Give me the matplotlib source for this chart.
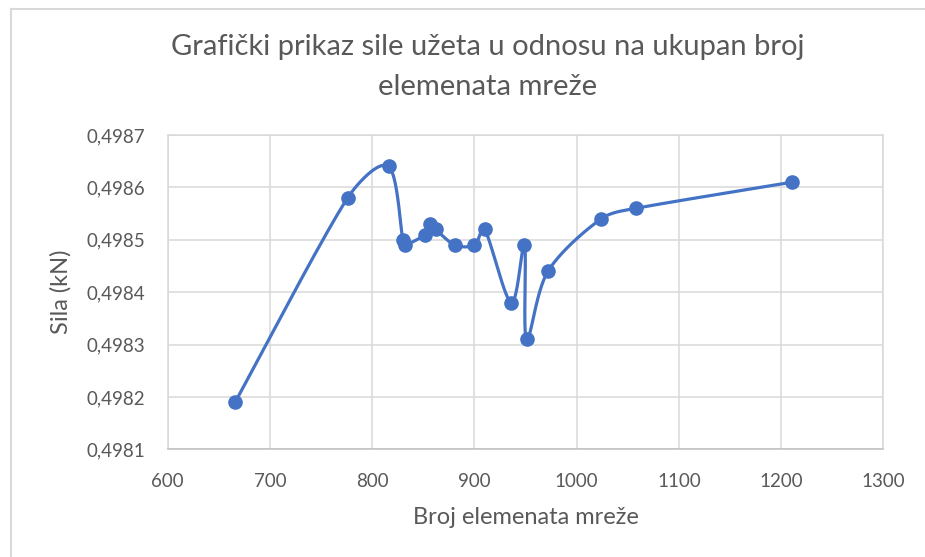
import numpy as np
import matplotlib
matplotlib.use("Agg")
import matplotlib.pyplot as plt
from matplotlib.lines import Line2D
from matplotlib.ticker import FuncFormatter

plt.rcParams['font.family'] = ['Lato', 'DejaVu Sans']

# broj elemenata mreže i sila u užetu
broj_elemenata = [666, 776, 816, 830, 832, 852, 857, 862, 881, 900, 910, 936, 949, 951, 972, 1024, 1058, 1211]
sila = [0.49819, 0.49858, 0.49864, 0.49850, 0.49849, 0.49851, 0.49853, 0.49852, 0.49849, 0.49849,
        0.49852, 0.49838, 0.49849, 0.49831, 0.49844, 0.49854, 0.49856, 0.49861]

x_ticks = [600, 700, 800, 900, 1000, 1100, 1200, 1300]
y_ticks = [0.4981, 0.4982, 0.4983, 0.4984, 0.4985, 0.4986, 0.4987]

blue = '#4472C4'
grey_text = '#595959'
grid_c = '#D9D9D9'


def smooth(ax, xs, ys, n=40):
    # bezier smoothing in screen space, handles capped so short segments don't overshoot
    pts = ax.transData.transform(np.column_stack([xs, ys]))
    out = []
    for i in range(len(pts) - 1):
        p0 = pts[max(i - 1, 0)]
        p1 = pts[i]
        p2 = pts[i + 1]
        p3 = pts[min(i + 2, len(pts) - 1)]
        seg_len = np.hypot(*(p2 - p1))
        h1 = (p2 - p0) / 6.0
        h2 = (p3 - p1) / 6.0
        cap = seg_len / 3.0
        if np.hypot(*h1) > cap:
            h1 = h1 * cap / np.hypot(*h1)
        if np.hypot(*h2) > cap:
            h2 = h2 * cap / np.hypot(*h2)
        c1 = p1 + h1
        c2 = p2 - h2
        t = np.linspace(0, 1, n)[:, None]
        seg = ((1 - t) ** 3) * p1 + 3 * ((1 - t) ** 2) * t * c1 + 3 * (1 - t) * t ** 2 * c2 + t ** 3 * p2
        out.append(seg if i == 0 else seg[1:])
    out = np.vstack(out)
    return ax.transData.inverted().transform(out)


fig = plt.figure(figsize=(9.25, 5.57), dpi=100)
ax = fig.add_axes([167.7 / 925, 1 - 449.3 / 557, (883.3 - 167.7) / 925, (449.3 - 135) / 557])

ax.set_xlim(600, 1300)
ax.set_ylim(0.4981, 0.4987)
ax.set_xticks(x_ticks)
ax.set_yticks(y_ticks)
ax.yaxis.set_major_formatter(FuncFormatter(lambda v, p: f"{v:.4f}".replace('.', ',')))
ax.grid(True, color=grid_c, linewidth=1.1)
ax.set_axisbelow(True)
for s in ax.spines.values():
    s.set_color(grid_c)
    s.set_linewidth(1.1)
ax.spines['bottom'].set_color('#BFBFBF')
ax.tick_params(length=0, labelsize=13.5, labelcolor=grey_text)
ax.tick_params(axis='x', pad=17)
ax.tick_params(axis='y', pad=16)

curve = smooth(ax, broj_elemenata, sila)
ax.plot(curve[:, 0], curve[:, 1], color=blue, linewidth=2.3, solid_capstyle='round', zorder=3)
ax.plot(broj_elemenata, sila, linestyle='none', marker='o', markersize=9.5, color=blue, zorder=4)

ax.set_xlabel('Broj elemenata mreže', fontsize=17, color=grey_text)
ax.xaxis.set_label_coords(0.5, -0.185)
ax.set_ylabel('Sila (kN)', fontsize=17, color=grey_text)
ax.yaxis.set_label_coords(-0.135, 0.5)

fig.text(488 / 925, 1 - 47 / 557, 'Grafički prikaz sile užeta u odnosu na ukupan broj',
         ha='center', va='center', fontsize=21, color=grey_text)
fig.text(488 / 925, 1 - 87 / 557, 'elemenata mreže',
         ha='center', va='center', fontsize=21, color=grey_text)

# okvir grafikona
fig.add_artist(Line2D([11 / 925, 11 / 925], [0, 1 - 8.5 / 557], transform=fig.transFigure, color='#D9D9D9', linewidth=1.5))
fig.add_artist(Line2D([11 / 925, 1], [1 - 8.5 / 557, 1 - 8.5 / 557], transform=fig.transFigure, color='#D9D9D9', linewidth=1.5))

fig.savefig('out.png', dpi=100)
